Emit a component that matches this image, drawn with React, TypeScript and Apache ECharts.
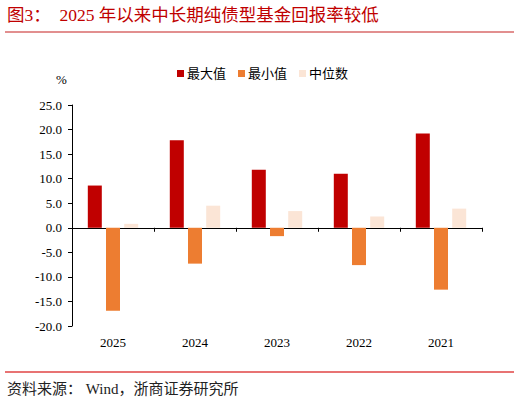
import React, { useEffect, useRef } from 'react'
import * as echarts from 'echarts'

const categories = ['2025', '2024', '2023', '2022', '2021']
const maxValues = [8.6, 17.8, 11.8, 11.0, 19.2]
const minValues = [-16.9, -7.3, -1.7, -7.6, -12.6]
const medianValues = [0.8, 4.5, 3.4, 2.3, 3.9]
const seriesNames = ['最大值', '最小值', '中位数']

const serif = '"Liberation Serif", "Times New Roman", "DejaVu Serif", "Noto Sans CJK SC", serif'

const App: React.FC = () => {
  const chartRef = useRef<HTMLDivElement>(null)

  useEffect(() => {
    if (!chartRef.current) return
    const chart = echarts.init(chartRef.current, undefined, { renderer: 'svg' })

    const option = {
      animation: false,
      backgroundColor: '#ffffff',
      color: ['#C00000', '#ED7D31', '#FBE5D6'],
      legend: {
        top: 62,
        left: 172,
        itemWidth: 7,
        itemHeight: 7,
        itemGap: 12,
        icon: 'rect',
        textStyle: { fontFamily: serif, fontSize: 13, color: '#000', padding: [0, 0, 0, -2] },
        data: seriesNames
      },
      grid: { left: 72, right: 38, top: 105, bottom: 77 },
      graphic: [
        {
          type: 'text',
          left: 7,
          top: 6,
          style: {
            text: '图3：  2025 年以来中长期纯债型基金回报率较低',
            fontFamily: serif,
            fontSize: 17.5,
            fill: '#C00000'
          }
        },
        {
          type: 'line',
          shape: { x1: 5, y1: 32, x2: 514, y2: 32 },
          style: { stroke: '#D96A6A', lineWidth: 1.5 }
        },
        {
          type: 'text',
          left: 56,
          top: 73,
          style: { text: '%', fontFamily: serif, fontSize: 13, fill: '#000' }
        },
        {
          type: 'line',
          shape: { x1: 5, y1: 372, x2: 514, y2: 372 },
          style: { stroke: '#E04545', lineWidth: 1.5 }
        },
        {
          type: 'text',
          left: 7,
          top: 381,
          style: { text: '资料来源： Wind，浙商证券研究所', fontFamily: serif, fontSize: 15, fill: '#222' }
        }
      ],
      xAxis: [
        {
          type: 'category',
          data: categories,
          axisLine: { onZero: true, lineStyle: { color: '#000', width: 1 } },
          axisTick: { show: true, length: 4, lineStyle: { color: '#000' } },
          axisLabel: { show: false }
        },
        {
          type: 'category',
          data: categories,
          position: 'bottom',
          axisLine: { show: false },
          axisTick: { show: false },
          axisLabel: { margin: 10, fontFamily: serif, fontSize: 13, color: '#000' }
        }
      ],
      yAxis: {
        type: 'value',
        min: -20,
        max: 25,
        interval: 5,
        axisLine: { show: true, lineStyle: { color: '#000', width: 1 } },
        axisTick: { show: true, length: 4, lineStyle: { color: '#000' } },
        axisLabel: {
          margin: 10,
          fontFamily: serif,
          fontSize: 13,
          color: '#000',
          formatter: (v: number) => v.toFixed(1)
        },
        splitLine: { show: false }
      },
      series: [
        { name: seriesNames[0], type: 'bar', data: maxValues, barWidth: 14, barGap: '30%' },
        { name: seriesNames[1], type: 'bar', data: minValues, barWidth: 14, barGap: '30%' },
        { name: seriesNames[2], type: 'bar', data: medianValues, barWidth: 14, barGap: '30%' }
      ]
    }

    chart.setOption(option)

    return () => {
      chart.dispose()
    }
  }, [])

  return (
    <div
      ref={chartRef}
      style={{ position: 'absolute', left: 0, top: 0, width: 520, height: 403 }}
    />
  )
}

export default App
